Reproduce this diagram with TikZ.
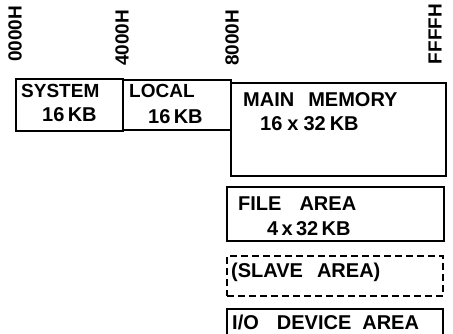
\documentclass[tikz,border=0pt]{standalone}
\usepackage{fontspec}
\setmainfont{Liberation Sans}
\begin{document}
\begin{tikzpicture}[x=1pt,y=-1pt,
  box/.style={draw,line width=1.6pt,inner sep=0pt,anchor=north west},
  dbox/.style={box,dash pattern=on 7pt off 4pt},
  lbl/.style={inner sep=0pt,anchor=west,font=\fontsize{20}{21}\bfseries\selectfont},
  addr/.style={inner sep=0pt,rotate=90,font=\fontsize{19}{20}\bfseries\selectfont}]
\useasboundingbox (0,0) rectangle (453,334);
\begin{scope}
\clip (0,0) rectangle (453,334);
\node[box,minimum width=107pt,minimum height=52pt] (sys) at (15,78) {};
\node[box,minimum width=108pt,minimum height=50pt] (loc) at (122,79) {};
\node[box,minimum width=215pt,minimum height=93pt] (mem) at (230,82) {};
\node[box,minimum width=217pt,minimum height=54pt] (file) at (226,186) {};
\node[dbox,minimum width=216pt,minimum height=40pt] (slave) at (226,255) {};
\node[box,minimum width=216pt,minimum height=40pt] (io) at (226,308) {};
\end{scope}
\node[addr] (a0) at (15,34) {0000H};
\node[addr] (a4) at (122,38) {4000H};
\node[addr] (a8) at (232,38) {8000H};
\node[addr] (af) at (435,34) {FFFFH};
\node[lbl,font=\fontsize{19}{20}\bfseries\selectfont] (t1) at (21,91) {SYSTEM};
\node[lbl] (t2) at (42,115) {16\,KB};
\node[lbl,font=\fontsize{19}{20}\bfseries\selectfont] (t3) at (129,91) {LOCAL};
\node[lbl] (t4) at (148,117) {16\,KB};
\node[lbl] (t5) at (243,100) {MAIN\hspace{14pt}MEMORY};
\node[lbl] (t6) at (260,124) {16\hspace{5pt}x\hspace{5pt}32\hspace{4pt}KB};
\node[lbl] (t7) at (238,204) {FILE\hspace{18pt}AREA};
\node[lbl] (t8) at (267,229) {4\,x\,32\,KB};
\node[lbl] (t9) at (231,272) {(SLAVE\hspace{14pt}AREA)};
\node[lbl] (t10) at (232,322) {I/O\hspace{18pt}DEVICE\hspace{11pt}AREA};
\end{tikzpicture}
\end{document}
